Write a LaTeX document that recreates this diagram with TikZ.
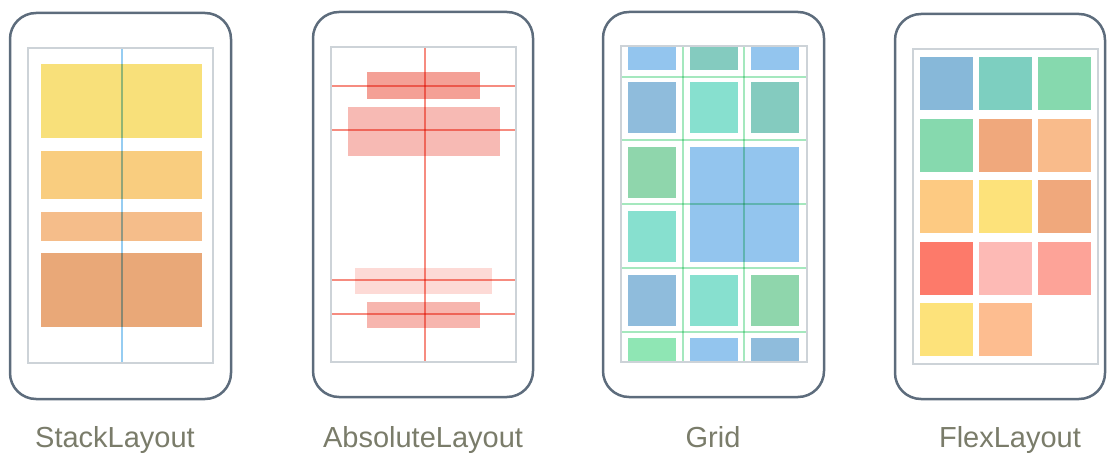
\documentclass[tikz,border=0pt]{standalone}
\usepackage{fontspec}
\setmainfont{Liberation Sans}
\usepackage{xcolor}
\usetikzlibrary{positioning}
\definecolor{phoneframe}{RGB}{93,108,124}
\definecolor{screenedge}{RGB}{205,211,216}
\definecolor{captiongray}{RGB}{122,124,106}
\definecolor{stackguide}{RGB}{150,205,242}
\definecolor{absguide}{RGB}{246,140,128}
\definecolor{gridguide}{RGB}{165,232,190}
% stack colours
\definecolor{stackA}{RGB}{248,224,122}
\definecolor{stackB}{RGB}{249,205,127}
\definecolor{stackC}{RGB}{245,189,138}
\definecolor{stackD}{RGB}{233,168,120}
% absolute colours
\definecolor{absA}{RGB}{244,160,150}
\definecolor{absB}{RGB}{247,186,180}
\definecolor{absC}{RGB}{253,218,214}
\definecolor{absD}{RGB}{247,181,174}
% cell colours
\definecolor{cellsky}{RGB}{147,197,238}
\definecolor{cellsteel}{RGB}{143,188,220}
\definecolor{cellteal}{RGB}{132,203,191}
\definecolor{cellaqua}{RGB}{135,224,207}
\definecolor{cellgreen}{RGB}{143,214,172}
\definecolor{cellmint}{RGB}{143,230,180}
\definecolor{flexblue}{RGB}{135,184,217}
\definecolor{flexteal}{RGB}{125,207,192}
\definecolor{flexgreen}{RGB}{134,217,174}
\definecolor{flexrust}{RGB}{240,168,124}
\definecolor{flexpeach}{RGB}{249,187,139}
\definecolor{flexamber}{RGB}{253,202,130}
\definecolor{flexyellow}{RGB}{253,226,122}
\definecolor{flexred}{RGB}{253,122,106}
\definecolor{flexpink}{RGB}{253,186,181}
\definecolor{flexsalmon}{RGB}{253,163,152}
\definecolor{flexapricot}{RGB}{253,189,144}

\begin{document}
\begin{tikzpicture}[x=1pt, y=-1pt,
  phone/.style={draw=phoneframe, line width=2.5pt, rounded corners=26pt},
  screen/.style={draw=screenedge, line width=1.8pt},
  guide/.style={line width=1.8pt, blend mode=multiply},
  caption/.style={anchor=base, font=\fontsize{29}{32}\selectfont, text=captiongray},
]
  \useasboundingbox (0,0) rectangle (1107,454);

  % StackLayout
  \draw[phone] (10,13) rectangle (231,399);
  \fill[stackA] (41,64) rectangle (202,138);
  \fill[stackB] (41,151) rectangle (202,199);
  \fill[stackC] (41,212) rectangle (202,241);
  \fill[stackD] (41,253) rectangle (202,327);
  \draw[guide, stackguide] (122,48) -- (122,363);
  \draw[screen] (28,48) rectangle (213,363);

  % AbsoluteLayout
  \draw[phone] (313,12) rectangle (533,397);
  \fill[absA] (367,72) rectangle (480,99);
  \fill[absB] (348,107) rectangle (500,156);
  \fill[absC] (355,268) rectangle (492,294);
  \fill[absD] (367,302) rectangle (480,328);
  \foreach \gy in {86,130,280,314}
    \draw[guide, absguide] (331,\gy) -- (516,\gy);
  \draw[guide, absguide] (425,47) -- (425,362);
  \draw[screen] (331,47) rectangle (516,362);

  % Grid
  \draw[phone] (603,12) rectangle (824,397);
  \begin{scope}
    \clip (621,46) rectangle (807,362);
    \foreach \cx/\cy/\cc in {628/40/cellsky, 690/40/cellteal, 751/40/cellsky,
        628/82/cellsteel, 690/82/cellaqua, 751/82/cellteal,
        628/147/cellgreen, 628/211/cellaqua,
        628/275/cellsteel, 690/275/cellaqua, 751/275/cellgreen,
        628/338/cellmint, 690/338/cellsky, 751/338/cellsteel}
      \fill[\cc] (\cx,\cy) rectangle ++(48,\ifnum\cy=40 30\else 51\fi);
    \fill[cellsky] (690,147) rectangle (799,262);
  \end{scope}
  \foreach \gy in {77,140,204,268,332}
    \draw[guide, gridguide] (621,\gy) -- (807,\gy);
  \foreach \gx in {683,744}
    \draw[guide, gridguide] (\gx,46) -- (\gx,362);
  \draw[screen] (621,46) rectangle (807,362);

  % FlexLayout
  \draw[phone] (895,14) rectangle (1105,399);
  \foreach \cx/\cy/\cc in {920/57/flexblue, 979/57/flexteal, 1038/57/flexgreen,
      920/119/flexgreen, 979/119/flexrust, 1038/119/flexpeach,
      920/180/flexamber, 979/180/flexyellow, 1038/180/flexrust,
      920/242/flexred, 979/242/flexpink, 1038/242/flexsalmon,
      920/303/flexyellow, 979/303/flexapricot}
    \fill[\cc] (\cx,\cy) rectangle ++(53,53);
  \draw[screen] (913,49) rectangle (1098,364);

  % Captions
  \node[caption] (stackcap) at (115,447) {StackLayout};
  \node[caption] (abscap) at (423,447) {AbsoluteLayout};
  \node[caption] (gridcap) at (713,447) {Grid};
  \node[caption] (flexcap) at (1010,447) {FlexLayout};
\end{tikzpicture}
\end{document}
